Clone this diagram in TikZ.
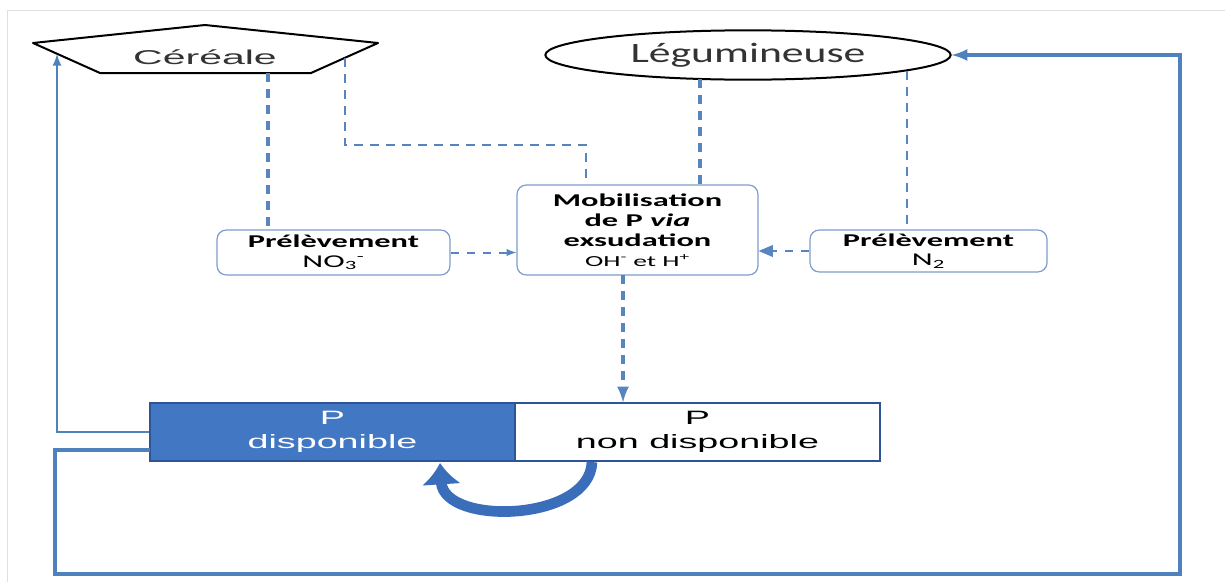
\documentclass[tikz,border=0pt]{standalone}
\usepackage{fontspec}
\usepackage{tikz}
\usetikzlibrary{arrows,arrows.meta,shapes.geometric}

\newfontfamily\cerfont[FakeStretch=2.05]{Liberation Sans}
\newfontfamily\pfont[FakeStretch=1.95]{Liberation Sans}
\newfontfamily\legfont[FakeStretch=1.56]{Carlito}
\newfontfamily\boxfont[FakeStretch=1.8]{Carlito}

\definecolor{bleu}{RGB}{79,129,189}
\definecolor{bleufonce}{RGB}{58,110,186}
\definecolor{tiretc}{RGB}{88,132,192}
\definecolor{cadre}{RGB}{125,155,205}
\definecolor{pbleu}{RGB}{66,119,196}
\definecolor{pcadre}{RGB}{45,85,150}

\tikzset{
  boite/.style={draw=cadre, rounded corners=7pt, line width=0.9pt, align=center, inner sep=0pt},
  pboite/.style={draw=pcadre, line width=1pt, minimum width=273.75pt, minimum height=43.5pt,
    align=center, inner sep=0pt, font=\pfont\fontsize{14.5}{18.5}\selectfont},
  pointille/.style={draw=tiretc, line width=#1, dash pattern=on 7pt off 5pt},
  pointille/.default=2pt,
  lien/.style={draw=bleu, line width=#1},
  lien/.default=2pt
}

\begin{document}
\begin{tikzpicture}[x=0.75pt,y=0.75pt,yscale=-1,xscale=1]
\useasboundingbox (0,0) rectangle (1225,582);

%Frame
\draw[gray!25, line width=0.75pt] (7,582) -- (7,10) -- (1225,10);

%Shape: Pentagon [Céréale]
\draw[line width=1.5pt, line join=round] (205,25) -- (378,43) -- (311,73) -- (100,73) -- (33,43) -- cycle;
\coordinate (cerL) at (57,54);
\coordinate (cerB) at (268,73);
\coordinate (cerR) at (345,58);
% Text Node
\node[text=black!80] (cer) at (205,57) {\cerfont\fontsize{15}{18}\selectfont Céréale};

%Shape: Ellipse [Légumineuse]
\node[draw, ellipse, line width=1.5pt, minimum width=304pt, minimum height=37pt, inner sep=0pt, text=black!80]
  (leg) at (748,55) {\legfont\fontsize{21}{25}\selectfont Légumineuse};
\coordinate (legA) at (700,79);
\coordinate (legB) at (907,71);

%Shape: Rounded boxes
\node[boite, minimum width=180.75pt, minimum height=67.5pt, font=\boxfont\fontsize{13.5}{15}\selectfont]
  (mob) at (637.5,230) {{\bfseries Mobilisation}\\{\bfseries de P \textit{via}}\\{\bfseries exsudation}\\{\fontsize{11.5}{15}\selectfont OH\textsuperscript{-} et H\textsuperscript{+}}};
\node[boite, minimum width=174.75pt, minimum height=33.75pt, font=\boxfont\fontsize{13.5}{14.5}\selectfont]
  (pre1) at (333.5,252.5) {{\bfseries Prélèvement}\\NO\textsubscript{3}\textsuperscript{-}};
\node[boite, minimum width=177.75pt, minimum height=31.5pt, font=\boxfont\fontsize{13.5}{14.5}\selectfont]
  (pre2) at (928.5,251) {{\bfseries Prélèvement}\\N\textsubscript{2}};

%Shape: P boxes
\node[pboite, fill=pbleu, text=white] (pdisp) at (332.5,432) {P\\disponible};
\node[pboite, fill=white, text=black] (pnon) at (697.5,432) {P\\non disponible};
\coordinate (plow) at (150,450);
\coordinate (bl) at (55,574);
\coordinate (br) at (1180,574);
\coordinate (mobA) at (586,145);
\coordinate (mobD) at (623,275);
\coordinate (cyA) at (592,462);
\coordinate (cyB) at (440,463);

%Straight Lines [dashed]
\draw[pointille=2.5pt] (cerB) -- (cerB |- pre1.north);
\draw[pointille] (cerR) |- (mobA) -- (mobA |- mob.north);
\draw[pointille=3.5pt] (legA) -- (legA |- mob.north);
\draw[pointille] (legB) -- (legB |- pre2.north);
\draw[pointille=3pt, -latex] (mobD) -- (mobD |- pnon.north);
\draw[pointille=1.5pt, dash pattern=on 6pt off 6pt, -latex] (pre1.east) -- (mob.west |- pre1.east);
\draw[pointille=1.5pt, dash pattern=on 6pt off 6pt, -triangle 45] (pre2.west) -- (mob.east |- pre2.west);

%Straight Lines [solid]
\draw[lien, -latex] (pdisp.west) -| (cerL);
\draw[lien=3pt, -latex] (plow) -| (bl) -- (br) |- (leg.east);

%Curve Lines
\draw[bleufonce, line width=8pt, -{Latex[length=16pt,width=30pt]}] (cyA) .. controls (590,522) and (444,526) .. (cyB);

\end{tikzpicture}
\end{document}
